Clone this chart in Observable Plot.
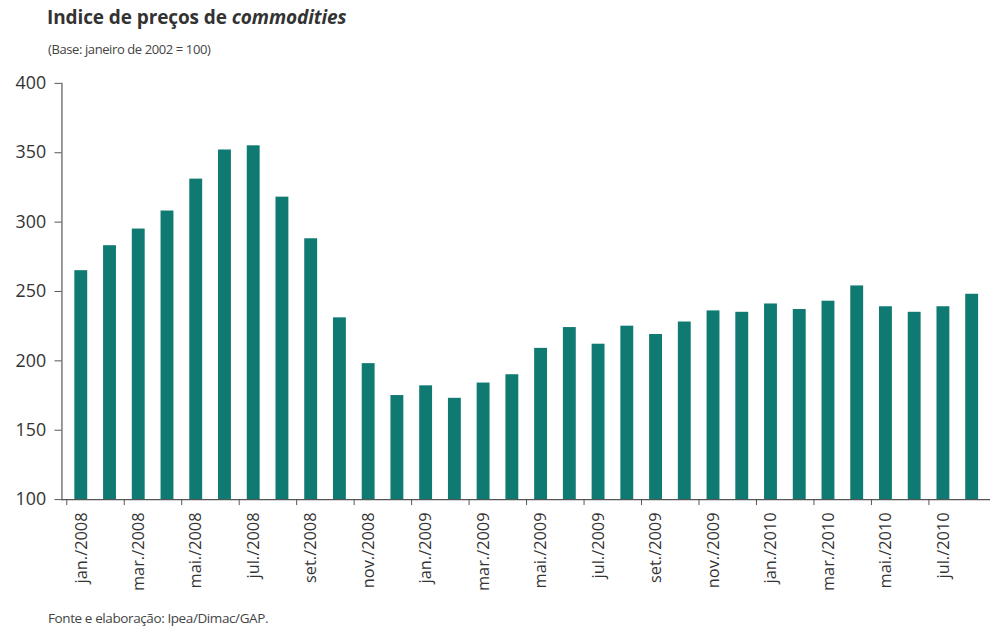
<!DOCTYPE html>
<html>
<head>
<meta charset="utf-8">
<script src="https://cdn.jsdelivr.net/npm/d3@7"></script>
<script src="https://cdn.jsdelivr.net/npm/@observablehq/plot@0.6"></script>
<style>
  html, body { margin: 0; padding: 0; background: #fff; }
  body { width: 991px; height: 632px; position: relative; overflow: hidden; }
  #title { position: absolute; left: 47px; top: 4px; font: bold 19px "Open Sans", sans-serif; color: #333; letter-spacing: -0.1px; }
  #subtitle { position: absolute; left: 48px; top: 40px; font: 13px "Open Sans", sans-serif; color: #444; letter-spacing: -0.4px; }
  #caption { position: absolute; left: 48px; top: 609px; font: 13.5px "Open Sans", sans-serif; color: #444; letter-spacing: -0.4px; }
  #chart { position: absolute; left: 0; top: 70px; }
</style>
</head>
<body>
<div id="title">Indice de preços de <i>commodities</i></div>
<div id="subtitle">(Base: janeiro de 2002 = 100)</div>
<div id="chart"></div>
<div id="caption">Fonte e elaboração: Ipea/Dimac/GAP.</div>
<script>
const months = [
  "jan./2008","fev./2008","mar./2008","abr./2008","mai./2008","jun./2008",
  "jul./2008","ago./2008","set./2008","out./2008","nov./2008","dez./2008",
  "jan./2009","fev./2009","mar./2009","abr./2009","mai./2009","jun./2009",
  "jul./2009","ago./2009","set./2009","out./2009","nov./2009","dez./2009",
  "jan./2010","fev./2010","mar./2010","abr./2010","mai./2010","jun./2010",
  "jul./2010","ago./2010"
];
const values = [
  265, 283, 295, 308, 331, 352, 355, 318, 288, 231, 198, 175,
  182, 173, 184, 190, 209, 224, 212, 225, 219, 228, 236, 235,
  241, 237, 243, 254, 239, 235, 239, 248
];
const tickLabels = ["jan./2008","mar./2008","mai./2008","jul./2008","set./2008","nov./2008",
  "jan./2009","mar./2009","mai./2009","jul./2009","set./2009","nov./2009",
  "jan./2010","mar./2010","mai./2010","jul./2010"];
const yTicks = [100, 150, 200, 250, 300, 350, 400];

const data = months.map((m, i) => ({month: m, value: values[i]}));

const W = 1000, ML = 62, MR = 1;
const step = (W - ML - MR) / months.length;

const chart = Plot.plot({
  width: W,
  height: 530,
  marginTop: 13,
  marginLeft: ML,
  marginRight: MR,
  marginBottom: 97,
  style: {fontFamily: "'Open Sans', sans-serif", fontSize: "18px", color: "#333", background: "transparent", overflow: "visible"},
  x: {domain: months, paddingInner: 0.56, paddingOuter: 0.28, axis: null, label: null},
  y: {domain: [100, 400], axis: null, label: null},
  marks: [
    Plot.barY(data, {x: "month", y1: 100, y2: "value", fill: "#0e7a72"}),
    Plot.ruleY([100], {stroke: "#555", strokeWidth: 1.2}),
    Plot.frame({anchor: "left", stroke: "#555", strokeWidth: 1.2}),
    Plot.axisY({ticks: yTicks, tickSize: 7, tickPadding: 9, stroke: "#555", fill: "#333", fontSize: 18, label: null}),
    Plot.axisX({ticks: tickLabels, tickSize: 0, tickPadding: 13, tickRotate: -90, fill: "#333",
      fontSize: 16.5, label: null, letterSpacing: "-0.5px"}),
    Plot.axisX({ticks: tickLabels, tickSize: 6, text: null, dx: -step / 2, stroke: "#555", label: null})
  ]
});
document.getElementById("chart").appendChild(chart);
</script>
</body>
</html>
